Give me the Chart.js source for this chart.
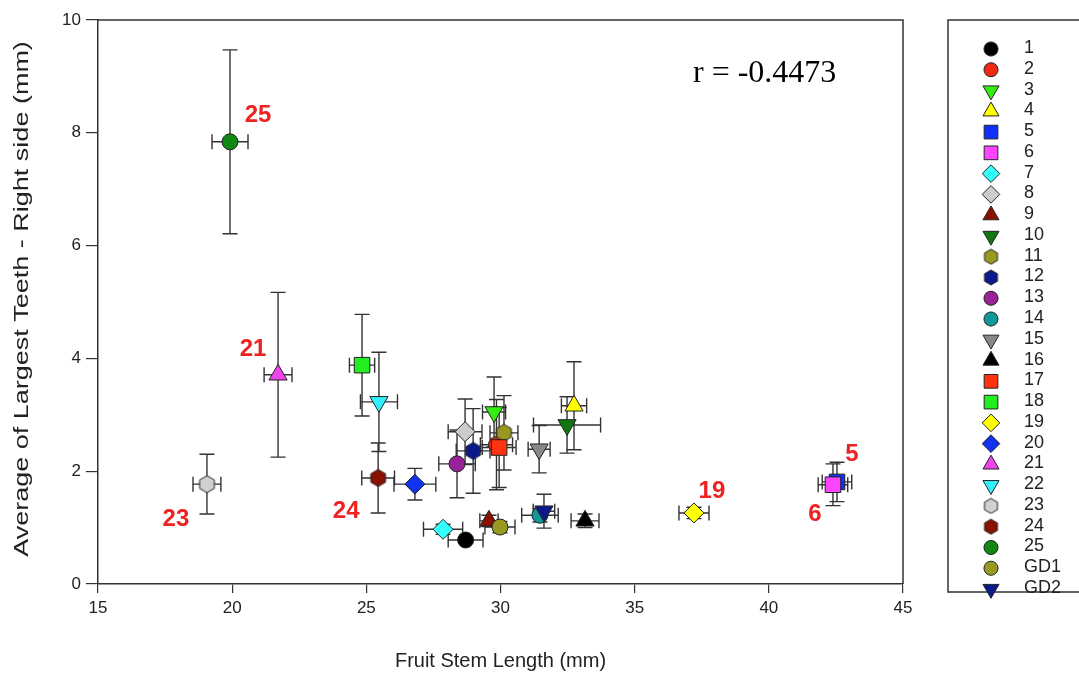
<!DOCTYPE html>
<html><head><meta charset="utf-8">
<script src="https://cdn.jsdelivr.net/npm/chart.js@4.4.1/dist/chart.umd.min.js"></script>
<style>html,body{margin:0;padding:0;background:#fff;}canvas{display:block;}</style>
</head><body>
<canvas id="c" width="1079" height="677"></canvas>
<script>
// ---- data ----
const series = ['1','2','3','4','5','6','7','8','9','10','11','12','13','14','15','16','17','18','19','20','21','22','23','24','25','GD1','GD2'];
const xVals = [28.70, 29.85, 29.76, 32.74, 42.54, 42.39, 27.86, 28.68, 29.57, 32.48, 30.13, 28.98, 28.38, 31.47, 31.44, 33.15, 29.95, 24.84, 37.21, 26.81, 21.71, 25.47, 19.06, 25.44, 19.92, 29.98, 31.62];
const yVals = [0.78, 2.47, 3.05, 3.16, 1.81, 1.76, 0.97, 2.70, 1.12, 2.82, 2.68, 2.36, 2.13, 1.22, 2.39, 1.12, 2.42, 3.88, 1.26, 1.77, 3.71, 3.23, 1.77, 1.88, 7.84, 1.01, 1.29];
const xErr  = [0.65, 0.60, 0.43, 0.47, 0.55, 0.55, 0.73, 0.63, 0.34, 1.25, 0.52, 0.63, 0.68, 0.68, 0.41, 0.52, 0.63, 0.47, 0.56, 0.78, 0.52, 0.69, 0.52, 0.61, 0.67, 0.56, 0.40];
const yErr  = [0.06, 0.80, 0.62, 0.78, 0.35, 0.37, 0.09, 0.58, 0.10, 0.50, 0.66, 0.75, 0.60, 0.12, 0.42, 0.12, 0.71, 0.90, 0.10, 0.28, 1.46, 0.88, 0.53, 0.62, 1.63, 0.10, 0.30];
const xTicksStep = 5, yTicksStep = 2;
const annotated = ['25','21','23','24','19','5','6'];
const rText = 'r = -0.4473';
const xTitle = 'Fruit Stem Length (mm)';
const yTitle = 'Average of Largest Teeth - Right side (mm)';

// ---- styles ----
const fills = ['#000000','#f02a10','#33ee11','#ffff00','#1030ff','#ff44ff','#33ffff','#cccccc','#8b1000','#117711','#999922','#0a1a8a','#992299','#119999','#888888','#000000','#ff3311','#22ee22','#ffff00','#1133ee','#ee44ee','#33eeff','#d0d0d0','#881100','#118811','#999922','#0a1a8a'];
const shapes = ['circle','circle','down','up','rect','rect','diamond','diamond','up','down','hex','hex','circle','circle','down','up','rect','rect','diamond','diamond','up','down','hex','hex','circle','circle','down'];
const labelDx = [28, -25, -31, -32, 18, 15, -18];
const labelDy = [-26, -25, 35, 33, -22, -28, 30];

function makeHex(fill, r){
  const s = Math.ceil(2*r+2);
  const cv = document.createElement('canvas'); cv.width = s; cv.height = s;
  const g = cv.getContext('2d');
  g.beginPath();
  for(let k=0;k<6;k++){ const a = Math.PI/6 + k*Math.PI/3; const px = s/2 + r*Math.cos(a), py = s/2 + r*Math.sin(a); if(k===0) g.moveTo(px,py); else g.lineTo(px,py);} 
  g.closePath(); g.fillStyle = fill; g.fill(); g.lineWidth = 1; g.strokeStyle = '#222'; g.stroke();
  return cv;
}
function styleFor(i, k){
  const sh = shapes[i];
  if(sh==='circle') return {pointStyle:'circle', radius:8*k, rotation:0};
  if(sh==='rect') return {pointStyle:'rect', radius:11*k, rotation:0};
  if(sh==='diamond') return {pointStyle:'rectRot', radius:10*k, rotation:0};
  if(sh==='up') return {pointStyle:'triangle', radius:10.5*k, rotation:0};
  if(sh==='down') return {pointStyle:'triangle', radius:10.5*k, rotation:180};
  return {pointStyle:makeHex(fills[i], 8.5*k), radius:8.5*k, rotation:0};
}
const styles = series.map((s,i)=>styleFor(i, 1));
const legendStyles = series.map((s,i)=>styleFor(i, 0.88));

const datasets = series.map((s,i)=>({
  label: s,
  order: -i,
  data: [{x:xVals[i], y:yVals[i]}],
  pointStyle: styles[i].pointStyle,
  pointRadius: styles[i].radius,
  pointRotation: styles[i].rotation,
  backgroundColor: fills[i],
  borderColor: '#222',
  borderWidth: 1
}));

const errorBars = {
  id:'errorBars',
  beforeDatasetsDraw(chart){
    const {ctx, scales:{x,y}} = chart; const cap = 7.5;
    ctx.save(); ctx.strokeStyle = '#333'; ctx.lineWidth = 1.4;
    series.forEach((s,i)=>{
      const px = x.getPixelForValue(xVals[i]), py = y.getPixelForValue(yVals[i]);
      const x0 = x.getPixelForValue(xVals[i]-xErr[i]), x1 = x.getPixelForValue(xVals[i]+xErr[i]);
      const y0 = y.getPixelForValue(yVals[i]-yErr[i]), y1 = y.getPixelForValue(yVals[i]+yErr[i]);
      ctx.beginPath();
      ctx.moveTo(x0,py); ctx.lineTo(x1,py);
      ctx.moveTo(px,y0); ctx.lineTo(px,y1);
      ctx.moveTo(x0,py-cap); ctx.lineTo(x0,py+cap);
      ctx.moveTo(x1,py-cap); ctx.lineTo(x1,py+cap);
      ctx.moveTo(px-cap,y0); ctx.lineTo(px+cap,y0);
      ctx.moveTo(px-cap,y1); ctx.lineTo(px+cap,y1);
      ctx.stroke();
    });
    ctx.restore();
  }
};

const frame = {
  id:'frame',
  afterDraw(chart){
    const {ctx, chartArea:a} = chart;
    ctx.save(); ctx.strokeStyle = '#333'; ctx.lineWidth = 1.5;
    ctx.beginPath(); ctx.moveTo(a.left, a.top); ctx.lineTo(a.right, a.top); ctx.lineTo(a.right, a.bottom); ctx.stroke();
    // y title (stretched along its length like the reference)
    ctx.save();
    ctx.translate(22, (a.top + a.bottom)/2 - 3);
    ctx.rotate(-Math.PI/2);
    ctx.scale(1.35, 1);
    ctx.fillStyle = '#222'; ctx.font = '20px "Liberation Sans", Arial, sans-serif';
    ctx.textAlign = 'center'; ctx.textBaseline = 'middle';
    ctx.fillText(yTitle, 0, 0);
    ctx.restore();
    // r value
    ctx.fillStyle = '#000'; ctx.font = '32px "Liberation Serif", "Times New Roman", serif';
    ctx.textAlign = 'left'; ctx.textBaseline = 'middle';
    ctx.fillText(rText, a.left + 595, 74);
    // point labels
    const {x,y} = chart.scales;
    ctx.fillStyle = '#ee2222'; ctx.font = 'bold 24px "Liberation Sans", Arial, sans-serif'; ctx.textAlign = 'center';
    annotated.forEach((lab,k)=>{
      const i = series.indexOf(lab);
      ctx.fillText(lab, x.getPixelForValue(xVals[i]) + labelDx[k], y.getPixelForValue(yVals[i]) + labelDy[k]);
    });
    // legend
    const bx = a.right + 45, by = a.top, bh = 572;
    ctx.strokeStyle = '#333'; ctx.lineWidth = 1.5;
    ctx.strokeRect(bx, by, chart.width - bx + 20, bh);
    const step = 20.77;
    ctx.font = '18px "Liberation Sans", Arial, sans-serif'; ctx.textAlign = 'left';
    series.forEach((s,i)=>{
      const ly = by + 29 + i*step;
      ctx.fillStyle = fills[i]; ctx.strokeStyle = '#222'; ctx.lineWidth = 1;
      Chart.helpers.drawPoint(ctx, {pointStyle: legendStyles[i].pointStyle, radius: legendStyles[i].radius, rotation: legendStyles[i].rotation, borderWidth:1}, bx + 43, ly);
      ctx.fillStyle = '#222';
      ctx.fillText(s, bx + 76, ly - 1);
    });
    ctx.restore();
  }
};

new Chart(document.getElementById('c'), {
  type: 'scatter',
  data: {datasets},
  plugins: [errorBars, frame],
  options: {
    responsive: false, animation: false, devicePixelRatio: 1,
    layout: {padding: {left: 0, right: 176, top: 20, bottom: 0}},
    plugins: {legend: {display:false}, tooltip: {enabled:false}},
    scales: {
      x: {
        type:'linear', min:15, max:45,
        ticks:{stepSize:xTicksStep, color:'#222', font:{family:'"Liberation Sans", Arial, sans-serif', size:17}, padding:5},
        grid:{drawOnChartArea:false, drawTicks:true, tickLength:9, color:'#333', lineWidth:1.2},
        border:{color:'#333', width:1.5},
        title:{display:true, text:xTitle, color:'#222', font:{family:'"Liberation Sans", Arial, sans-serif', size:20}, padding:{top:0, bottom:4}},
        afterFit(s){ s.height = 93; }
      },
      y: {
        type:'linear', min:0, max:10,
        ticks:{stepSize:yTicksStep, color:'#222', font:{family:'"Liberation Sans", Arial, sans-serif', size:17}, padding:5},
        grid:{drawOnChartArea:false, drawTicks:true, tickLength:12, color:'#333', lineWidth:1.2},
        border:{color:'#333', width:1.5},
        title:{display:false},
        afterFit(s){ s.width = 98; }
      }
    }
  }
});
</script>
</body></html>
